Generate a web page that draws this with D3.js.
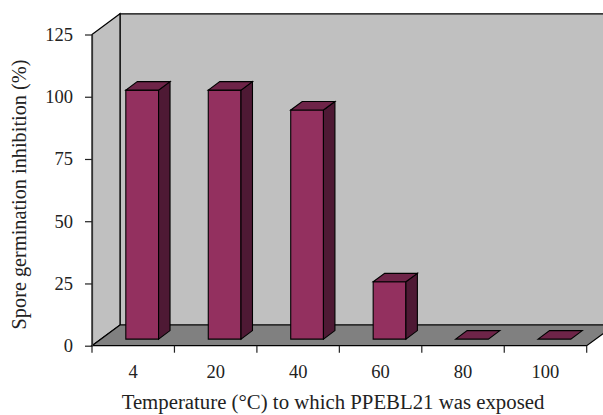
<!DOCTYPE html>
<html><head><meta charset="utf-8">
<script src="https://cdn.jsdelivr.net/npm/d3@7"></script>
<style>body{margin:0;background:#fff;} svg{display:block;} text{font-family:"Liberation Serif","DejaVu Serif",serif;fill:#222;}</style>
</head><body>
<script>
const categories = ["4","20","40","60","80","100"];
const values = [100, 100, 92, 23, 0, 0];
const yTicks = [0,25,50,75,100,125];
const xTitle = "Temperature (\u00B0C) to which PPEBL21 was exposed";
const yTitle = "Spore germination inhibition (%)";

const W=603,H=415;
const svg=d3.select("body").append("svg").attr("width",W).attr("height",H);
const x0=92, x1=586.7, yb=345.7, yt=34.5;
const DX=28, DY=-20.7;
const y=d3.scaleLinear().domain([0,125]).range([yb,yt]);
const x=d3.scaleBand().domain(categories).range([x0,x1]);
const pt=(a)=>a.map(p=>p.join(",")).join(" ");

// back wall
svg.append("polygon").attr("points",pt([[x0+DX,yt+DY],[W+40,yt+DY],[W+40,yb+DY],[x0+DX,yb+DY]]))
  .attr("fill","#c0c0c0").attr("stroke","#000").attr("stroke-width",1.2);
// left wall
svg.append("polygon").attr("points",pt([[x0,yt],[x0+DX,yt+DY],[x0+DX,yb+DY],[x0,yb]]))
  .attr("fill","#c0c0c0").attr("stroke","#000").attr("stroke-width",1.2);
// floor
svg.append("polygon").attr("points",pt([[x0,yb],[x1,yb],[x1+DX,yb+DY],[x0+DX,yb+DY]]))
  .attr("fill","#808080").attr("stroke","#000").attr("stroke-width",1.2);

// bars
const bw=x.bandwidth()*0.397;
const f0=0.32, f1=0.73;
const g=svg.append("g");
categories.forEach((c,i)=>{
  const v=values[i];
  const cx=x(c)+x.bandwidth()/2;
  const ox=f0*DX, oy=f0*DY;
  const dx=(f1-f0)*DX, dy=(f1-f0)*DY;
  const L=cx-bw/2+ox, R=cx+bw/2+ox, B=yb+oy, T=y(v)+oy;
  if(v>0){
    g.append("polygon").attr("points",pt([[L,T],[R,T],[R,B],[L,B]])).attr("fill","#93305f").attr("stroke","#000").attr("stroke-width",1.1);
    g.append("polygon").attr("points",pt([[R,T],[R+dx,T+dy],[R+dx,B+dy],[R,B]])).attr("fill","#4e1934").attr("stroke","#000").attr("stroke-width",1.1);
  }
  g.append("polygon").attr("points",pt([[L,T],[R,T],[R+dx,T+dy],[L+dx,T+dy]])).attr("fill","#6e2448").attr("stroke","#000").attr("stroke-width",1.1);
});

// y axis
const ya=svg.append("g").attr("transform",`translate(${x0},0)`)
  .call(d3.axisLeft(y).tickValues(yTicks).tickSize(7).tickPadding(12).tickSizeOuter(0));
ya.select(".domain").attr("stroke","#333").attr("stroke-width",1.2);
ya.selectAll(".tick line").attr("stroke","#222").attr("stroke-width",1.2);
ya.selectAll(".tick text").style("font-size","18.5px").style("font-family","'Liberation Serif',serif").attr("fill","#222");

// x axis
const xa=svg.append("g").attr("transform",`translate(0,${yb})`)
  .call(d3.axisBottom(x).tickSize(0).tickPadding(0));
xa.select(".domain").remove();
xa.selectAll(".tick text").style("font-size","18.5px").style("font-family","'Liberation Serif',serif").attr("fill","#222").attr("y",32.5).attr("dy",0);
const edges=categories.map(c=>x(c)).concat([x.range()[1]]);
xa.selectAll(".edge").data(edges).join("line").attr("class","edge")
  .attr("x1",d=>d).attr("x2",d=>d).attr("y1",0).attr("y2",7).attr("stroke","#222").attr("stroke-width",1.2);

// titles
svg.append("text").attr("x",333).attr("y",408.5).attr("text-anchor","middle").style("font-size","20.8px").text(xTitle);
svg.append("text").attr("transform","translate(26,194.5) rotate(-90)").attr("text-anchor","middle").style("font-size","20.3px").text(yTitle);
</script>
</body></html>
